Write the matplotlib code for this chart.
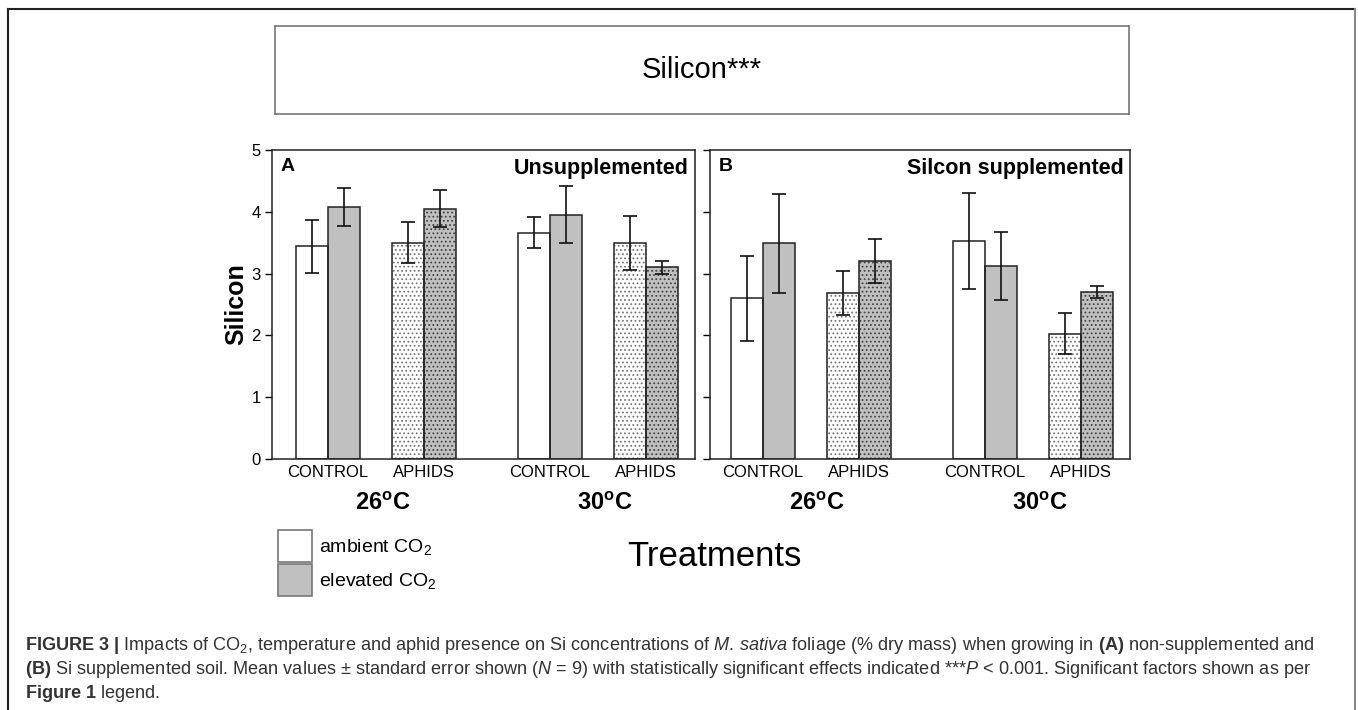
import numpy as np
import matplotlib.pyplot as plt
from matplotlib.patches import Rectangle
from matplotlib.lines import Line2D

plt.rcParams['font.family'] = ['Liberation Sans', 'DejaVu Sans']
plt.rcParams['mathtext.fontset'] = 'custom'
plt.rcParams['mathtext.rm'] = 'Liberation Sans'
plt.rcParams['mathtext.it'] = 'Liberation Sans:italic'
plt.rcParams['mathtext.bf'] = 'Liberation Sans:bold'
plt.rcParams['hatch.linewidth'] = 0.8

groups = ['CONTROL', 'APHIDS', 'CONTROL', 'APHIDS']
temps = ['26', '30']
legend_labels = ['ambient CO$_2$', 'elevated CO$_2$']

# panel A - unsupplemented soil
a_amb = [3.44, 3.50, 3.66, 3.50]
a_amb_err = [0.43, 0.33, 0.25, 0.44]
a_elev = [4.08, 4.05, 3.95, 3.10]
a_elev_err = [0.31, 0.30, 0.46, 0.11]

# panel B - silicon supplemented soil
b_amb = [2.60, 2.69, 3.53, 2.03]
b_amb_err = [0.69, 0.36, 0.78, 0.33]
b_elev = [3.49, 3.20, 3.13, 2.70]
b_elev_err = [0.80, 0.36, 0.55, 0.10]

AMB_COL = 'white'
ELEV_COL = '#c0c0c0'
EDGE = '#222222'


def draw_panel(ax, amb, amb_err, elev, elev_err, letter, title, xmin):
    x = np.array([0, 3, 6.94, 9.94]) + 1.75
    w = 1.0
    dotted = [False, True, False, True]
    for i in range(4):
        for xx, val, col, dot_col in [(x[i] - w / 2, amb[i], AMB_COL, '#777777'),
                                      (x[i] + w / 2, elev[i], ELEV_COL, '#444444')]:
            ax.bar(xx, val, w, color=col, edgecolor=dot_col if dotted[i] else 'none',
                   hatch='....' if dotted[i] else None, lw=0, zorder=2)
            ax.bar(xx, val, w, color='none', edgecolor=EDGE, lw=1.1, zorder=3)
    ax.errorbar(x - w / 2, amb, yerr=amb_err, fmt='none', ecolor='#111111',
                elinewidth=1.2, capsize=5, capthick=1.2, zorder=4)
    ax.errorbar(x + w / 2, elev, yerr=elev_err, fmt='none', ecolor='#111111',
                elinewidth=1.2, capsize=5, capthick=1.2, zorder=4)

    ax.set_xlim(xmin, 13.22)
    ax.set_ylim(0, 5)
    ax.set_yticks(range(6))
    ax.set_xticks(x)
    ax.set_xticklabels(groups, fontsize=12)
    ax.tick_params(axis='x', length=0, pad=4)
    ax.tick_params(axis='y', direction='out', length=5, width=1, pad=3, labelsize=12)
    for s in ax.spines.values():
        s.set_color('#222222')
        s.set_linewidth(1.1)

    ax.text(0.02, 0.975, letter, transform=ax.transAxes, fontsize=14,
            fontweight='bold', va='top', ha='left')
    ax.text(0.985, 0.975, title, transform=ax.transAxes, fontsize=15.5,
            fontweight='bold', va='top', ha='right')

    trans = ax.get_xaxis_transform()
    for j, t in enumerate(temps):
        xc = (x[2 * j] + x[2 * j + 1]) / 2 + 0.2
        ax.text(xc, -0.145, t + r'$^{\mathbf{o}}$C', transform=trans, ha='center',
                va='center', fontsize=17, fontweight='bold')


fig = plt.figure(figsize=(13.58, 7.10), dpi=100)
W, H = 1358, 710

axA = fig.add_axes([272 / W, 1 - 459 / H, 423 / W, 309 / H])
axB = fig.add_axes([710 / W, 1 - 459 / H, 420 / W, 309 / H])

draw_panel(axA, a_amb, a_amb_err, a_elev, a_elev_err, 'A', 'Unsupplemented', 0.0)
draw_panel(axB, b_amb, b_amb_err, b_elev, b_elev_err, 'B', 'Silcon supplemented', 0.1)
axB.set_yticklabels([])
axA.set_ylabel('Silicon', fontsize=18, fontweight='bold', labelpad=2)

# title box
axT = fig.add_axes([275 / W, 1 - 114 / H, 854 / W, 88 / H])
axT.set_xticks([])
axT.set_yticks([])
for s in axT.spines.values():
    s.set_color('#777777')
    s.set_linewidth(1.2)
axT.text(0.5, 0.5, 'Silicon***', ha='center', va='center', fontsize=21,
         transform=axT.transAxes)

# legend (large square keys, drawn by hand)
for k, (lab, col) in enumerate(zip(legend_labels, [AMB_COL, ELEV_COL])):
    top = 530 + 34 * k
    fig.add_artist(Rectangle((278 / W, 1 - (top + 32) / H), 34 / W, 32 / H,
                             facecolor=col, edgecolor='#777777', lw=1.2,
                             transform=fig.transFigure))
    fig.text(319 / W, 1 - (top + 17) / H, lab, ha='left', va='center', fontsize=14)

fig.text(714 / W, 1 - 557 / H, 'Treatments', ha='center', va='center', fontsize=25)

# outer frame, open at the bottom
fig.add_artist(Line2D([8 / W, 8 / W], [0, 1 - 9 / H], color='#222222', lw=1.5))
fig.add_artist(Line2D([8 / W, 1355 / W], [1 - 9 / H, 1 - 9 / H], color='#222222', lw=1.5))
fig.add_artist(Line2D([1355 / W, 1355 / W], [0, 1 - 9 / H], color='#888888', lw=1.5))

# caption
cap_col = '#333333'
lines = [
    r'$\mathbf{FIGURE\ 3\ |}$ Impacts of CO$_2$, temperature and aphid presence on Si concentrations of '
    r'$\mathit{M.\,sativa}$ foliage (% dry mass) when growing in $\mathbf{(A)}$ non-supplemented and',
    r'$\mathbf{(B)}$ Si supplemented soil. Mean values $\pm$ standard error shown ($\mathit{N}$ = 9) with '
    r'statistically significant effects indicated ***$\mathit{P}$ < 0.001. Significant factors shown as per',
    r'$\mathbf{Figure\ 1}$ legend.',
]
for k, ln in enumerate(lines):
    fig.text(25 / W, 1 - (645 + 24 * k) / H, ln, ha='left', va='center',
             fontsize=13.1, color=cap_col)

fig.savefig('out.png', dpi=100)
